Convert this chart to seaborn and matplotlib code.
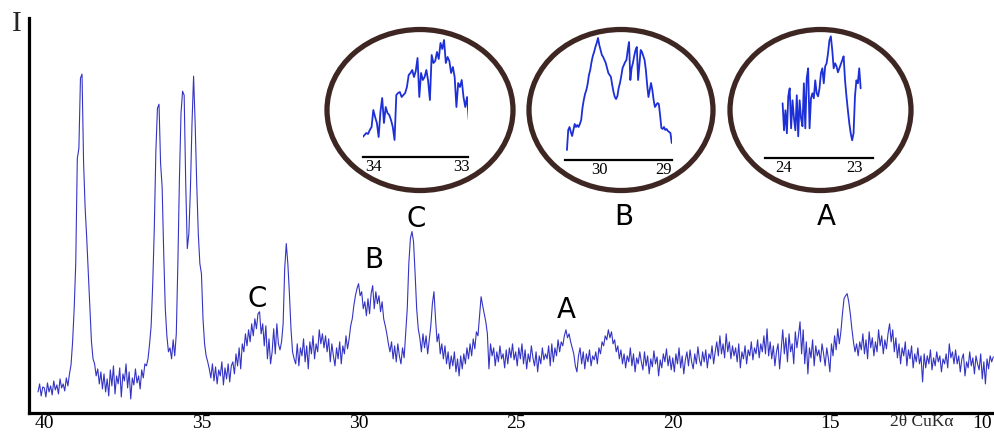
import numpy as np
import seaborn as sns
import matplotlib
matplotlib.use("Agg")
import matplotlib.pyplot as plt
from matplotlib.patches import Ellipse
from matplotlib.ticker import FixedLocator, FixedFormatter
from matplotlib.transforms import ScaledTranslation

W, H = 994, 432

# ---------------- main XRD pattern (2theta from 40.20 down to 9.80, step 0.05) ----------------
two_theta_start, two_theta_end = 40.20, 9.80
intensity = [
    22, 30, 18, 27,                                                                        # 40.20-40.05
    26, 17, 31, 22, 28, 19, 33, 24, 29, 20, 35, 26, 30, 23, 36, 28, 40, 49, 72, 105,       # 40.00-39.05
    150, 255, 265, 335, 339, 250, 205, 175, 140, 105, 72, 55, 50, 38, 45, 30, 42, 25, 40, 22,  # 39
    35, 18, 44, 28, 48, 20, 38, 30, 46, 17, 40, 33, 50, 26, 42, 15, 36, 29, 45, 31,        # 38
    38, 25, 44, 36, 50, 48, 55, 70, 88, 130, 185, 262, 305, 309, 250, 226, 160, 105, 78, 62,  # 37
    66, 55, 74, 58, 80, 150, 235, 300, 322, 318, 230, 165, 180, 225, 290, 337, 290, 230, 180, 150,  # 36
    140, 95, 70, 58, 52, 45, 36, 50, 33, 47, 30, 44, 38, 52, 29, 46, 35, 50, 32, 48,       # 35
    52, 40, 60, 48, 66, 45, 70, 62, 80, 68, 84, 72, 90, 78, 95, 85, 100, 102, 80, 90,      # 34
    68, 88, 55, 75, 50, 62, 85, 60, 90, 70, 64, 72, 90, 145, 170, 150, 120, 85, 62, 55,    # 33
    50, 70, 48, 66, 58, 75, 52, 68, 45, 72, 60, 78, 55, 70, 62, 84, 70, 80, 66, 78,        # 32
    62, 75, 52, 70, 58, 48, 66, 55, 72, 50, 68, 60, 78, 65, 75, 88, 95, 108, 118, 125,     # 31
    130, 118, 122, 105, 112, 98, 115, 100, 120, 128, 105, 122, 110, 118, 102, 112, 95, 88, 80, 70,  # 30
    62, 72, 55, 68, 52, 70, 58, 50, 66, 56, 80, 105, 150, 175, 182, 172, 140, 105, 85, 76,  # 29
    62, 80, 66, 78, 60, 74, 88, 110, 122, 95, 72, 80, 60, 70, 55, 68, 50, 62, 45, 58,      # 28
    48, 62, 42, 55, 38, 58, 45, 60, 50, 66, 55, 70, 58, 75, 65, 82, 78, 98, 117, 108,      # 27
    100, 92, 80, 45, 70, 58, 66, 48, 62, 52, 68, 55, 60, 46, 64, 50, 66, 56, 70, 54,       # 26
    62, 48, 66, 55, 70, 50, 64, 45, 60, 52, 68, 56, 48, 62, 42, 58, 50, 66, 54, 60,        # 25
    55, 68, 48, 70, 52, 66, 58, 74, 62, 72, 68, 78, 84, 76, 80, 72, 66, 60, 48, 42,        # 24
    58, 66, 50, 62, 45, 60, 52, 64, 48, 58, 54, 62, 50, 66, 60, 72, 68, 78, 74, 84,        # 23
    76, 82, 70, 74, 62, 68, 55, 64, 50, 60, 46, 58, 52, 66, 48, 60, 42, 56, 50, 62,        # 22
    52, 44, 62, 48, 58, 40, 55, 47, 63, 50, 57, 38, 54, 46, 60, 52, 65, 48, 58, 44,        # 21
    56, 42, 60, 50, 66, 46, 58, 40, 54, 62, 48, 64, 52, 45, 60, 50, 67, 54, 48, 62,        # 20
    52, 64, 46, 60, 55, 68, 50, 62, 72, 58, 78, 60, 70, 56, 80, 62, 72, 55, 68, 58,        # 19
    66, 52, 70, 46, 62, 55, 68, 50, 64, 58, 72, 54, 66, 60, 74, 56, 70, 62, 78, 60,        # 18
    85, 58, 72, 55, 68, 48, 62, 70, 45, 64, 84, 60, 76, 52, 80, 62, 70, 50, 82, 66,        # 17
    78, 92, 60, 84, 50, 72, 40, 66, 56, 74, 48, 68, 58, 64, 52, 70, 60, 48, 66, 56,        # 16
    42, 70, 58, 78, 64, 85, 70, 82, 100, 115, 118, 120, 112, 100, 85, 72, 62, 70, 58, 72,  # 15
    64, 80, 60, 74, 55, 82, 66, 76, 58, 72, 62, 84, 68, 78, 60, 74, 65, 80, 90, 72,        # 14
    84, 62, 76, 56, 70, 50, 66, 58, 72, 48, 64, 55, 68, 46, 60, 52, 66, 50, 58, 32,        # 13
    60, 46, 58, 50, 64, 44, 56, 48, 62, 52, 58, 42, 55, 50, 60, 46, 70, 56, 62, 50,        # 12
    64, 50, 58, 42, 55, 60, 38, 52, 46, 62, 48, 56, 40, 58, 50, 44, 60, 35, 52, 30,        # 11
    55, 45, 58, 52, 57,                                                                    # 10.00-9.80
]
two_theta = np.round(np.linspace(two_theta_start, two_theta_end, len(intensity)), 2)

# ---------------- insets (step 0.02) ----------------
inset_c_range = (34.12, 32.90)
inset_c = [20, 22, 24, 23, 27, 30, 47, 40, 34, 20,
           45, 59, 34, 50, 44, 42, 37, 30, 17, 62,
           64, 65, 60, 62, 64, 70, 82, 84, 87, 80,
           86, 99, 60, 84, 77, 80, 87, 76, 57, 102,
           94, 96, 105, 98, 114, 108, 117, 94, 100, 96,
           84, 90, 80, 50, 74, 70, 77, 60, 50, 60,
           37, 57]
inset_b_range = (30.50, 28.88)
inset_b = [10, 30, 33, 28, 24, 30, 36, 33, 35, 33,
           36, 40, 52, 60, 66, 70, 76, 85, 90, 98,
           104, 108, 113, 117, 122, 115, 110, 105, 103, 100,
           97, 92, 87, 85, 83, 75, 68, 63, 61, 64,
           72, 77, 84, 92, 95, 98, 100, 110, 118, 80,
           92, 97, 104, 110, 113, 80, 95, 110, 108, 104,
           100, 90, 75, 63, 70, 77, 70, 60, 53, 55,
           57, 56, 45, 32, 31, 33, 30, 31, 29, 28,
           27, 17]
inset_a_range = (24.02, 22.92)
inset_a = [55, 28, 48, 25, 62, 70, 30, 58, 40, 28,
           63, 22, 58, 40, 32, 75, 30, 80, 90, 30,
           60, 65, 60, 78, 65, 62, 70, 85, 90, 75,
           92, 95, 105, 118, 122, 108, 90, 95, 92, 86,
           90, 94, 98, 102, 78, 62, 48, 35, 25, 18,
           25, 62, 78, 75, 90, 70]

x_major_labels = [40, 35, 30, 25, 20, 15, 10]
inset_c_ticks = [34, 33]
inset_b_ticks = [30, 29]
inset_a_ticks = [24, 23]

LINE = "#3434c4"
INSET_LINE = "#1d2fd6"
RING = "#3e2723"

sns.set_style("white")
plt.rcParams["font.family"] = ["Liberation Serif", "DejaVu Serif"]

fig = plt.figure(figsize=(W / 100, H / 100), dpi=100)
fig.patch.set_facecolor("white")

# main axes
ax = fig.add_axes([29.3 / W, 19 / H, (W - 29.3) / W, (413 - 18) / H])
ax.patch.set_alpha(0)
sns.lineplot(x=two_theta, y=intensity, ax=ax, color=LINE, lw=0.8,
             estimator=None, sort=False)
ax.set_xlim(40.478, 9.777)
ax.set_ylim(1, 395)
for s in ["top", "right"]:
    ax.spines[s].set_visible(False)
for s in ["left", "bottom"]:
    ax.spines[s].set_linewidth(2.3)
    ax.spines[s].set_color("black")
ticks = list(range(10, 41))
ax.xaxis.set_major_locator(FixedLocator(ticks))
ax.xaxis.set_major_formatter(FixedFormatter([str(t) if t in x_major_labels else "" for t in ticks]))
ax.tick_params(axis="x", direction="in", length=6.5, width=2.6, pad=1.5,
               labelsize=14, colors="black")
# keep the "10" label (at the right edge) inside the picture
for lab in ax.get_xticklabels():
    if lab.get_text() == "10":
        lab.set_transform(lab.get_transform() + ScaledTranslation(-5 / 100, 0, fig.dpi_scale_trans))
ax.set_yticks([395])
ax.set_yticklabels([""])
ax.tick_params(axis="y", direction="inout", length=7, width=2.3, colors="black")
ax.set_xlabel("")
ax.set_ylabel("")

fig.text(17 / W, 1 - 24 / H, "I", fontsize=21, ha="center", va="center")
fig.text(890 / W, 1 - 414 / H, "2θ CuKα", fontsize=12.5, ha="left", va="top")

# peak / inset letters
letters = [("C", 257, 307), ("B", 374, 268), ("C", 416, 227), ("A", 566, 318),
           ("B", 624, 225), ("A", 826, 225)]
for t, px, py in letters:
    fig.text(px / W, 1 - py / H, t, fontsize=20, ha="center", va="baseline",
             family="DejaVu Sans", color="black")

# insets
def make_inset(cx, w_ring, left, right, axis_y, top, xl, xr, rng, vals, tks):
    fig.add_artist(Ellipse((cx / W, 1 - 110 / H), w_ring / W, 161 / H,
                           transform=fig.transFigure, fill=False,
                           edgecolor=RING, lw=3.8))
    a = fig.add_axes([left / W, 1 - axis_y / H, (right - left) / W, (axis_y - top) / H])
    a.patch.set_alpha(0)
    xs = np.round(np.linspace(rng[0], rng[1], len(vals)), 2)
    sns.lineplot(x=xs, y=vals, ax=a, color=INSET_LINE, lw=1.3,
                 estimator=None, sort=False)
    a.set_xlim(xl, xr)
    a.set_ylim(0, axis_y - top)
    for s in ["top", "right", "left"]:
        a.spines[s].set_visible(False)
    a.spines["bottom"].set_linewidth(1.6)
    a.spines["bottom"].set_color("black")
    a.set_yticks([])
    a.set_xticks(tks)
    a.set_xticklabels([str(t) for t in tks])
    a.tick_params(axis="x", direction="in", length=9, width=1.6, pad=1.5,
                  labelsize=12, colors="black")
    a.set_xlabel("")
    a.set_ylabel("")
    return a

make_inset(420, 186, 363, 468, 157, 35, 34.117, 32.929, inset_c_range, inset_c, inset_c_ticks)
make_inset(621, 184, 565, 672, 160, 37, 30.530, 28.876, inset_b_range, inset_b, inset_b_ticks)
make_inset(820.5, 181, 765, 873, 158.3, 35, 24.268, 22.746, inset_a_range, inset_a, inset_a_ticks)

fig.savefig("out.png", dpi=100, facecolor="white")
